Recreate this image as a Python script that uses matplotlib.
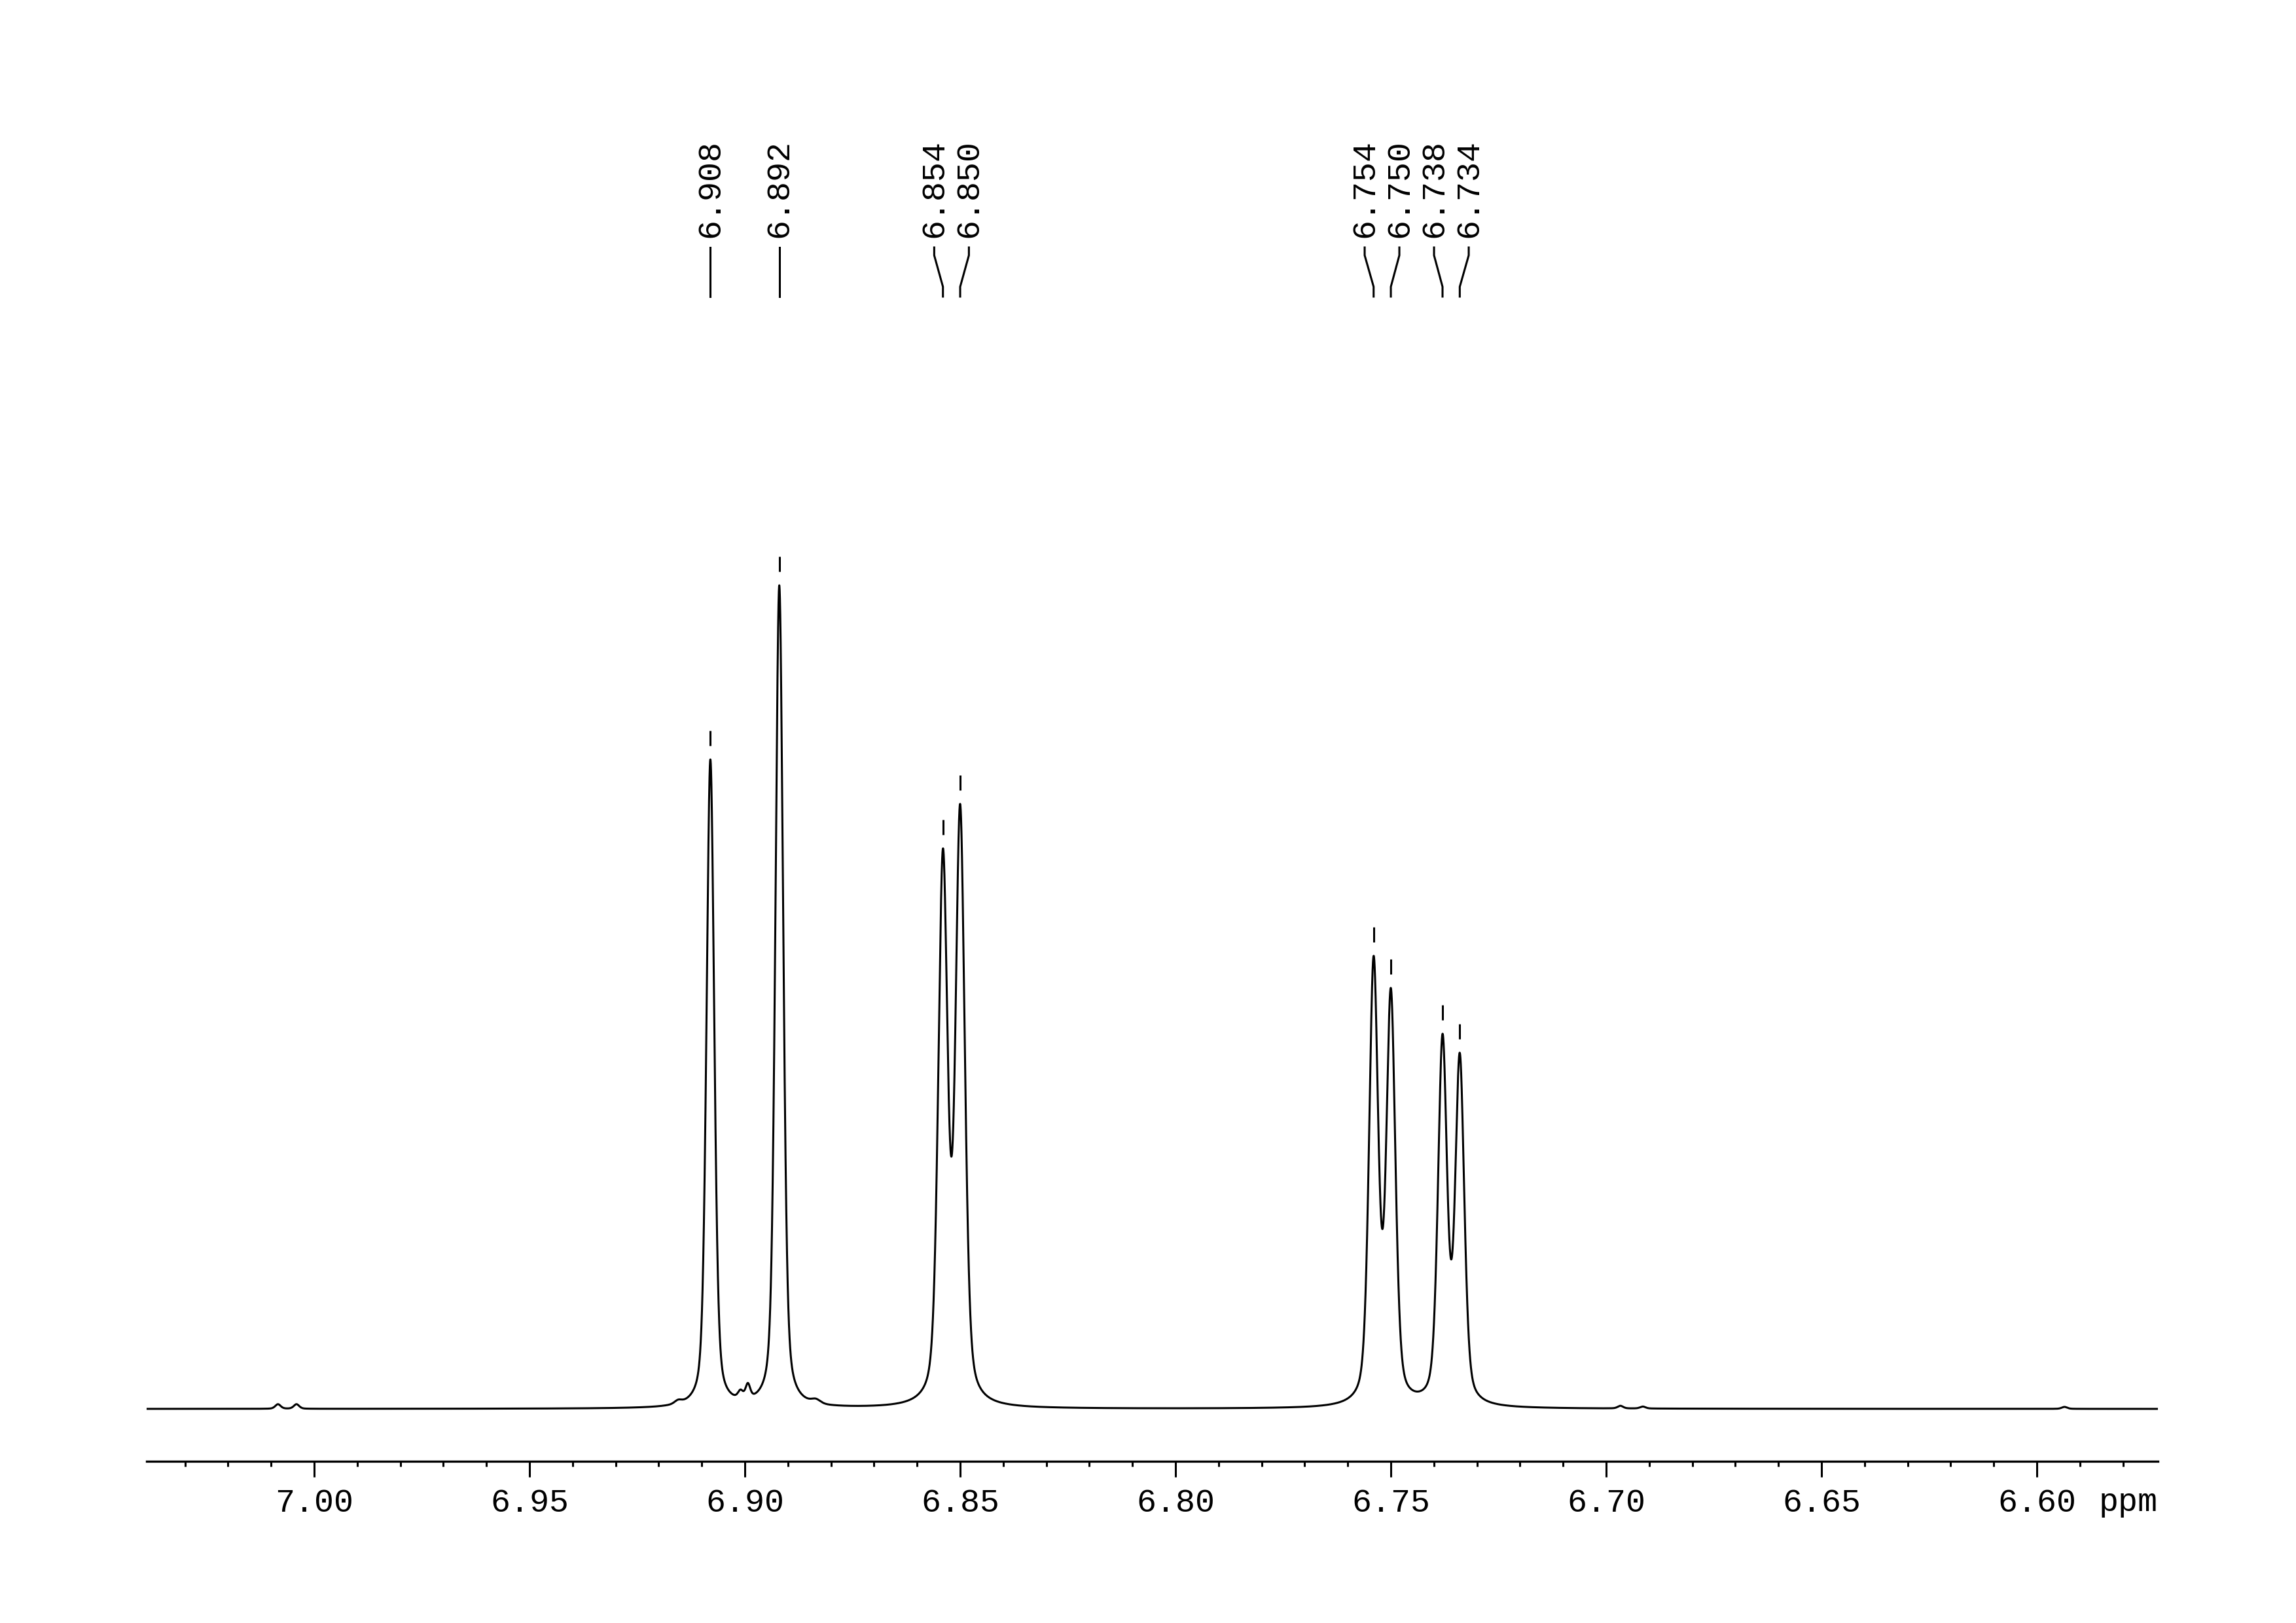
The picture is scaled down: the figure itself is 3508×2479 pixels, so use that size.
import numpy as np
import matplotlib
matplotlib.use("Agg")
import matplotlib.pyplot as plt
from matplotlib.ticker import MultipleLocator, FormatStrFormatter

# ---- data ----
peak_ppm = [6.908, 6.892, 6.854, 6.850, 6.754, 6.750, 6.738, 6.734]
peak_height = [992, 1258, 856, 924, 692, 643, 573, 544]       # height above baseline
peak_fwhm = [0.00213, 0.00213, 0.00255, 0.00255, 0.00249, 0.00249, 0.00248, 0.00248]
peak_labels = ["6.908", "6.892", "6.854", "6.850", "6.754", "6.750", "6.738", "6.734"]

small_ppm = [7.0084, 7.0041, 6.9155, 6.9010, 6.8993, 6.8835, 6.6967, 6.6915, 6.5936]
small_amp = [7, 7, 5, 12, 22, 6, 4, 3, 3]
small_fwhm = [0.0015, 0.0015, 0.0020, 0.0014, 0.0013, 0.0025, 0.0015, 0.0015, 0.0015]

x_left, x_right = 7.0389, 6.5719
major_step, minor_step = 0.05, 0.01
eta = 0.4

plt.rcParams['font.family'] = ['Liberation Mono', 'DejaVu Sans Mono']

def pv(x, x0, w):
    d = (x - x0) / w
    return eta / (1 + 4 * d**2) + (1 - eta) * np.exp(-4 * np.log(2) * d**2)

pp = np.array(peak_ppm); pw = np.array(peak_fwhm); ph = np.array(peak_height, float)
sp = np.array(small_ppm); sa = np.array(small_amp, float); sw = np.array(small_fwhm)

# solve amplitudes so that summed spectrum reproduces observed peak heights
M = np.array([[pv(pp[i], pp[j], pw[j]) for j in range(len(pp))] for i in range(len(pp))])
small_at = np.array([np.sum(sa * pv(pp[i], sp, sw)) for i in range(len(pp))])
amps = np.linalg.solve(M, ph - small_at)

x = np.linspace(x_left, x_right, 30000)
y = np.zeros_like(x)
for a, c, w in zip(amps, pp, pw):
    y += a * pv(x, c, w)
for a, c, w in zip(sa, sp, sw):
    y += a * pv(x, c, w)

W, H = 3508, 2479
fig = plt.figure(figsize=(W / 100, H / 100), dpi=100)
ax = fig.add_axes([224 / W, 1 - 2232 / H, (3297 - 224) / W, 2232 / H])
ax.set_xlim(x_left, x_right)
ax.set_ylim(-80, 2152)

lw = 2.2
ax.plot(x, y, color='black', lw=lw)

# peak markers
tops = np.interp(pp, x[::-1], y[::-1])
ax.vlines(pp, tops + 21, tops + 44, color='black', lw=lw)

# label positions: spread clustered labels
px_per_ppm = (3297 - 224) / (x_left - x_right)
min_sep = 53 / px_per_ppm
order = np.argsort(-pp)
positions = list(pp[order])
groups = [[i] for i in range(len(positions))]
def group_pos(g):
    c = np.mean([positions[i] for i in g])
    n = len(g)
    return [c + (n - 1) / 2 * min_sep - k * min_sep for k in range(n)]
changed = True
while changed:
    changed = False
    lab = [group_pos(g) for g in groups]
    for k in range(len(groups) - 1):
        if lab[k][-1] - lab[k + 1][0] < min_sep - 1e-9:
            groups[k] = groups[k] + groups[k + 1]
            del groups[k + 1]
            changed = True
            break
label_x = []
for g in groups:
    label_x += group_pos(g)

y_text, y_l0, y_l1, y_l2, y_l3 = 1789, 1774, 1762, 1714, 1699
for idx, lx in zip(order, label_x):
    px = pp[idx]
    ax.plot([lx, lx, px, px], [y_l0, y_l1, y_l2, y_l3], color='black', lw=lw,
            solid_joinstyle='miter')
    ax.text(lx, y_text, peak_labels[idx], rotation=90, rotation_mode='anchor',
            ha='left', va='center', fontsize=36, color='black')

# axes styling
for s in ['top', 'left', 'right']:
    ax.spines[s].set_visible(False)
ax.spines['bottom'].set_linewidth(2.4)
ax.yaxis.set_visible(False)
ax.xaxis.set_major_locator(MultipleLocator(major_step))
ax.xaxis.set_minor_locator(MultipleLocator(minor_step))
ax.xaxis.set_major_formatter(FormatStrFormatter('%.2f'))
ax.tick_params(axis='x', which='major', direction='out', length=17.5, width=2.2,
               labelsize=36, pad=12)
ax.tick_params(axis='x', which='minor', direction='out', length=6, width=2.2)
fig.text(3297 / W, 1 - 2308 / H, "ppm", ha='right', va='baseline', fontsize=36)

fig.savefig("out.png", dpi=100, facecolor='white')
